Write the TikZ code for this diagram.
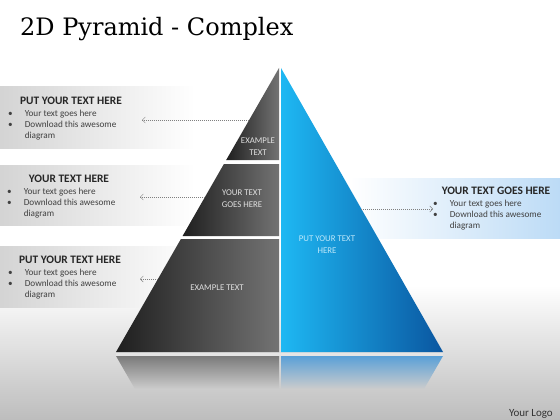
\documentclass[tikz,border=0pt]{standalone}
\usepackage{fontspec}
\setmainfont{Carlito}
\newfontfamily\titlefont{DejaVu Serif}
\usetikzlibrary{positioning,arrows.meta}

\begin{document}
\begin{tikzpicture}[x=1pt,y=-1pt,
		head/.style={font=\fontsize{11.4}{13}\selectfont\bfseries, text=black!85, inner sep=0pt},
		bullets/.style={font=\fontsize{9.2}{11.3}\selectfont, text=black!75, inner sep=0pt, anchor=north west},
		inlabel/.style={font=\fontsize{8.8}{12}\selectfont, text=white!88!black, align=center, inner sep=0pt},
		pointer/.style={-{Straight Barb[length=3pt,width=6pt]}, gray, thin, dash pattern=on 1.2pt off 0.8pt}]
		\useasboundingbox (0,0) rectangle (560,420);
		% background
		\fill[white] (0,0) rectangle (560,285);
		\shade[top color=white, bottom color=black!26] (0,285) rectangle (560,420);
		\node[font=\fontsize{24}{28}\selectfont\titlefont, anchor=base west, inner sep=0pt] (title) at (20,36) {2D Pyramid - Complex};
		\node[font=\fontsize{11}{12}\selectfont, text=black!80, anchor=base east, inner sep=0pt] (logo) at (553,416) {Your Logo};

		% text boxes
		\shade[left color=black!17, right color=white] (0,87) rectangle (195,148);
		\shade[left color=black!17, right color=white] (0,165) rectangle (195,225);
		\shade[left color=black!17, right color=white] (0,246) rectangle (195,307);
		\shade[left color=white, right color={rgb,255:red,188;green,219;blue,246}] (350,178) rectangle (560,238);

		% pyramid, left half
		\shade[left color=black!88, right color=black!55] (279,68) -- (226.2,160) -- (279,160) -- cycle;
		\shade[left color=black!88, right color=black!55] (223.9,164) -- (182.6,236) -- (279,236) -- (279,164) -- cycle;
		\shade[left color=black!88, right color=black!55] (180.9,239) -- (116,352) -- (279,352) -- (279,239) -- cycle;
		% pyramid, right half
		\shade[left color={rgb,255:red,30;green,184;blue,243}, right color={rgb,255:red,10;green,86;blue,160}] (281,68) -- (443,352) -- (281,352) -- cycle;
		% reflection
		\fill[white!90!black] (116,352.5) rectangle (443,355.5);
		\shade[top color=black!52, bottom color=black!20] (116,356) -- (135,389) -- (279,389) -- (279,356) -- cycle;
		\shade[top color={rgb,255:red,90;green,160;blue,215}, bottom color=black!20] (281,356) -- (281,389) -- (424,389) -- (443,356) -- cycle;

		\node[inlabel] (s1) at (258,147) {EXAMPLE\\TEXT};
		\node[inlabel] (s2) at (242,199) {YOUR TEXT\\GOES HERE};
		\node[inlabel] (s3) at (217,288) {EXAMPLE TEXT};
		\node[inlabel, text={rgb,255:red,190;green,232;blue,250}] (s4) at (327,245) {PUT YOUR TEXT\\HERE};

		% box texts
		\node[head] (h1) at (71,101) {PUT YOUR TEXT HERE};
		\node[head] (h2) at (69,179) {YOUR TEXT HERE};
		\node[head] (h3) at (70,260) {PUT YOUR TEXT HERE};
		\node[head] (h4) at (496,191) {YOUR TEXT GOES HERE};
		\foreach \n/\x/\y in {b1/8/108, b2/7/186, b3/8/267, b4/433/198}
			\node[bullets] (\n) at (\x,\y) {\begin{tabular}{@{}l@{\hspace{12pt}}l@{}}
				\textbullet & Your text goes here\\
				\textbullet & Download this awesome\\
				& diagram
			\end{tabular}};

		% pointers
		\coordinate (e1) at (249,120);
		\coordinate (e2) at (205,197);
		\coordinate (e3) at (158,279);
		\coordinate (e4) at (361,209);
		\coordinate (t1) at (142,120);
		\coordinate (t2) at (140,197);
		\coordinate (t3) at (140,279);
		\coordinate (t4) at (433,209);
		\foreach \i in {1,...,4}
			\draw[pointer] (e\i) -- (t\i);
	\end{tikzpicture}
\end{document}
